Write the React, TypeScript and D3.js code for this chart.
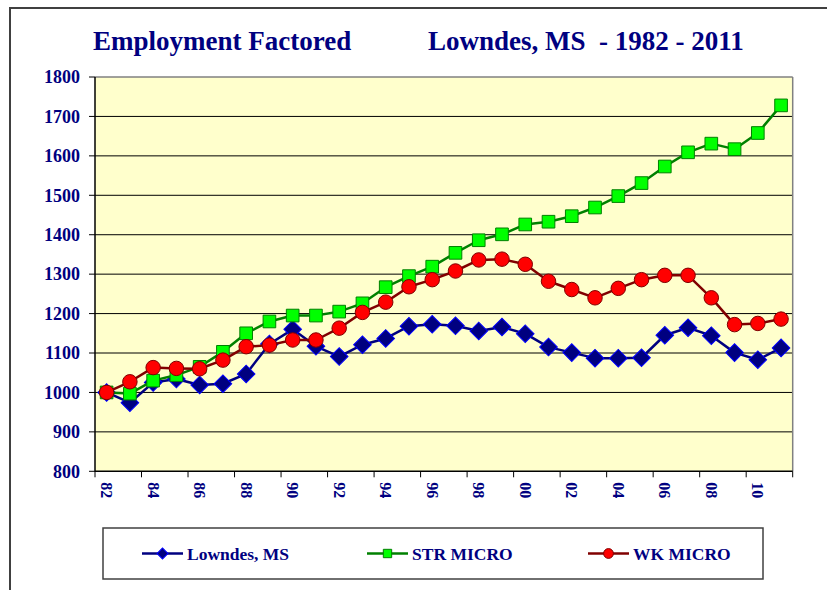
import React from "react";
import * as d3 from "d3";

// categories (years) and their tick labels
const years = [
  1982, 1983, 1984, 1985, 1986, 1987, 1988, 1989, 1990, 1991,
  1992, 1993, 1994, 1995, 1996, 1997, 1998, 1999, 2000, 2001,
  2002, 2003, 2004, 2005, 2006, 2007, 2008, 2009, 2010, 2011,
];
const tickYears = [1982, 1984, 1986, 1988, 1990, 1992, 1994, 1996, 1998, 2000, 2002, 2004, 2006, 2008, 2010];
const tickLabels = ["82", "84", "86", "88", "90", "92", "94", "96", "98", "00", "02", "04", "06", "08", "10"];
const yTicks = [800, 900, 1000, 1100, 1200, 1300, 1400, 1500, 1600, 1700, 1800];

// series values
const lowndes = [
  1000, 974, 1025, 1034, 1019, 1022, 1047, 1123, 1160, 1117,
  1091, 1121, 1137, 1168, 1173, 1169, 1156, 1166, 1149, 1115,
  1101, 1087, 1087, 1088, 1145, 1164, 1144, 1101, 1083, 1113,
];
const strMicro = [
  1000, 997, 1030, 1044, 1065, 1103, 1150, 1180, 1195, 1195,
  1205, 1226, 1267, 1295, 1319, 1354, 1386, 1401, 1426, 1433,
  1447, 1469, 1498, 1531, 1573, 1609, 1631, 1617, 1658, 1728,
];
const wkMicro = [
  1000, 1027, 1063, 1061, 1060, 1082, 1116, 1120, 1133, 1133,
  1163, 1203, 1229, 1268, 1286, 1308, 1336, 1338, 1325, 1282,
  1261, 1240, 1264, 1286, 1297, 1297, 1240, 1172, 1175, 1186,
];

const navy = "#000080";
const font = "Liberation Serif";

const series = [
  { name: "Lowndes, MS", values: lowndes, line: "#000080", fill: "#000080", edge: "#0000ff", shape: "diamond", legendX: 142 },
  { name: "STR MICRO", values: strMicro, line: "#008000", fill: "#00ff00", edge: "#008000", shape: "square", legendX: 367 },
  { name: "WK MICRO", values: wkMicro, line: "#800000", fill: "#ff0000", edge: "#800000", shape: "circle", legendX: 588 },
];

function markerPath(shape, size) {
  if (shape === "circle") return d3.symbol(d3.symbolCircle, size)();
  return d3.symbol(d3.symbolSquare, size)();
}

export default function App() {
  const left = 95, right = 792.7, top = 77, bottom = 471.3;

  const x = d3.scaleBand().domain(years.map(String)).range([left, right]).padding(0);
  const cx = (yr) => x(String(yr)) + x.bandwidth() / 2;
  const y = d3.scaleLinear().domain([800, 1800]).range([bottom, top]);

  const line = d3.line().x((d, i) => cx(years[i])).y((d) => y(d));

  return (
    <svg width={827} height={590} style={{ position: "absolute", left: 0, top: 0, background: "#fff" }}>
      <rect x={10} y={8} width={840} height={610} fill="#fff" stroke="#404040" strokeWidth={2} />

      <text x={93} y={49.5} fontFamily={font} fontWeight="bold" fontSize={27} fill={navy}>Employment Factored</text>
      <text x={428} y={49.5} fontFamily={font} fontWeight="bold" fontSize={27} fill={navy} style={{ whiteSpace: "pre" }}>
        {"Lowndes, MS  - 1982 - 2011"}
      </text>

      <rect x={left} y={top} width={right - left} height={bottom - top} fill="#ffffcc" />

      {yTicks.map((t) => (
        <g key={t}>
          {t > 800 && t < 1800 && <line x1={left} x2={right} y1={y(t)} y2={y(t)} stroke="#000" strokeWidth={1} />}
          <line x1={left - 6} x2={left} y1={y(t)} y2={y(t)} stroke="#000" strokeWidth={1} />
          <text x={80} y={y(t)} dy="0.35em" textAnchor="end" fontFamily={font} fontWeight="bold" fontSize={18} fill={navy}>
            {t}
          </text>
        </g>
      ))}

      {/* plot border */}
      <line x1={left} x2={right} y1={top} y2={top} stroke="#808080" strokeWidth={1.5} />
      <line x1={right} x2={right} y1={top} y2={bottom} stroke="#808080" strokeWidth={1.5} />
      <line x1={left} x2={left} y1={top} y2={bottom + 0.5} stroke="#000" strokeWidth={1.5} />
      <line x1={left} x2={right} y1={bottom} y2={bottom} stroke="#000" strokeWidth={1.5} />

      {/* x ticks */}
      {tickYears.map((yr, i) => (
        <g key={yr}>
          <line x1={x(String(yr))} x2={x(String(yr))} y1={bottom} y2={bottom + 6} stroke="#000" strokeWidth={1} />
          <text
            transform={`translate(${cx(yr)},${bottom + 11}) rotate(90)`}
            dy="0.35em"
            fontFamily={font}
            fontWeight="bold"
            fontSize={16}
            fill={navy}
          >
            {tickLabels[i]}
          </text>
        </g>
      ))}
      <line x1={right} x2={right} y1={bottom} y2={bottom + 6} stroke="#000" strokeWidth={1} />

      {/* series */}
      {series.map((s) => (
        <g key={s.name}>
          <path d={line(s.values)} fill="none" stroke={s.line} strokeWidth={2.5} strokeLinejoin="round" />
          {s.values.map((v, i) => (
            <path
              key={i}
              d={markerPath(s.shape, s.shape === "diamond" ? 155 : s.shape === "square" ? 160 : 165)}
              transform={`translate(${cx(years[i])},${y(v)})${s.shape === "diamond" ? " rotate(45)" : ""}`}
              fill={s.fill}
              stroke={s.edge}
              strokeWidth={1}
            />
          ))}
        </g>
      ))}

      {/* legend */}
      <rect x={103} y={528} width={660} height={51} fill="#fff" stroke="#404040" strokeWidth={1.5} />
      {series.map((s) => (
        <g key={s.name}>
          <line x1={s.legendX} x2={s.legendX + 41} y1={553.5} y2={553.5} stroke={s.line} strokeWidth={2.5} />
          <path
            d={markerPath(s.shape, s.shape === "diamond" ? 60 : s.shape === "square" ? 70 : 75)}
            transform={`translate(${s.legendX + 20.5},553.5)${s.shape === "diamond" ? " rotate(45)" : ""}`}
            fill={s.fill}
            stroke={s.edge}
            strokeWidth={1}
          />
          <text x={s.legendX + 45} y={553.5} dy="0.35em" fontFamily={font} fontWeight="bold" fontSize={17.5} fill={navy}>
            {s.name}
          </text>
        </g>
      ))}
    </svg>
  );
}
